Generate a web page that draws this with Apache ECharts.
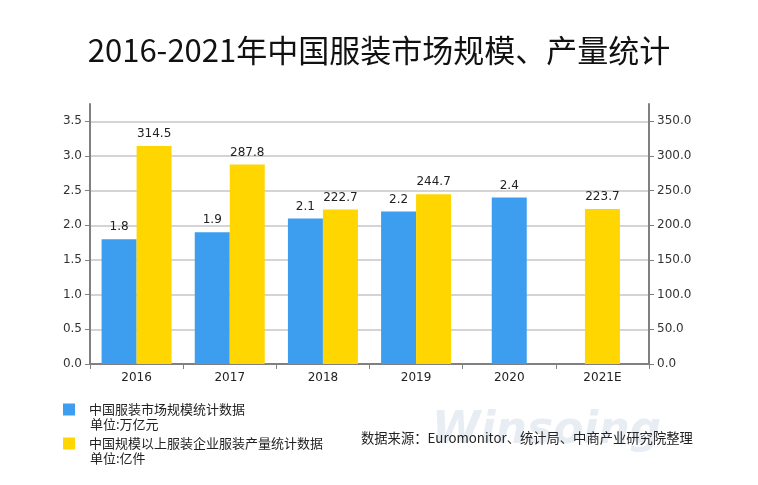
<!DOCTYPE html>
<html><head><meta charset="utf-8">
<script src="https://cdn.jsdelivr.net/npm/echarts@6/dist/echarts.min.js"></script>
<style>html,body{margin:0;padding:0;background:#fff}#c{width:758px;height:485px}</style>
</head><body><div id="c"></div>
<script>
var categories = ['2016', '2017', '2018', '2019', '2020', '2021E'];
var marketSize = [1.8, 1.9, 2.1, 2.2, 2.4, null];          // 万亿元
var production = [314.5, 287.8, 222.7, 244.7, null, 223.7]; // 亿件
var leftTicks = [0, 0.5, 1.0, 1.5, 2.0, 2.5, 3.0, 3.5];
var rightTicks = [0, 50, 100, 150, 200, 250, 300, 350];
var nameA = '中国服装市场规模统计数据';
var nameB = '中国规模以上服装企业服装产量统计数据';
var unitA = '单位:万亿元';
var unitB = '单位:亿件';
var title = '2016-2021年中国服装市场规模、产量统计';
var source = '数据来源：Euromonitor、统计局、中商产业研究院整理';

var BLUE = '#3d9ef0', YELLOW = '#ffd600', FONT = '"Noto Sans CJK SC", "DejaVu Sans", sans-serif';
var both = categories.map(function (c, i) { return marketSize[i] != null && production[i] != null; });
var aPair = marketSize.map(function (v, i) { return both[i] ? v : null; });
var bPair = production.map(function (v, i) { return both[i] ? v : null; });
var aSolo = marketSize.map(function (v, i) { return both[i] ? null : v; });
var bSolo = production.map(function (v, i) { return both[i] ? null : v; });

var lbl = { show: true, position: 'top', distance: 6, color: '#222', fontSize: 12, fontFamily: 'DejaVu Sans' };
var chart = echarts.init(document.getElementById('c'), null, { renderer: 'canvas' });
var axisLineStyle = { color: '#808080', width: 2 };
function yAxisCfg(max, interval, pos, ticks) {
  return {
    type: 'value', position: pos, min: 0, max: max, interval: interval,
    axisLine: { show: true, lineStyle: axisLineStyle },
    axisTick: { show: true, length: 5, lineStyle: { color: '#808080', width: 1 } },
    axisLabel: { color: '#333', fontSize: 12, fontFamily: 'DejaVu Sans', margin: 8, showMaxLabel: false,
      formatter: function (v) { return ticks.indexOf(v) >= 0 ? v.toFixed(1) : ''; } },
    splitLine: { show: pos === 'left', showMaxLine: false, lineStyle: { color: '#d4d4d4', width: 2 } }
  };
}
function legendCfg(name, top) {
  return {
    orient: 'vertical', left: 58, top: top, itemWidth: 12, itemHeight: 12, icon: 'rect',
    data: [name], padding: 5,
    textStyle: { fontFamily: FONT, fontSize: 13, color: '#222', padding: [0, 0, 0, 9] }
  };
}
chart.setOption({
  animation: false,
  backgroundColor: '#fff',
  title: { text: title, left: 'center', top: 30, textStyle: { fontFamily: FONT, fontSize: 31, fontWeight: 'normal', color: '#111' } },
  grid: { left: 90, right: 109, top: 104, bottom: 121 },
  legend: [legendCfg(nameA, 398), legendCfg(nameB, 432)],
  xAxis: [
    { type: 'category', data: categories, position: 'bottom',
      axisLine: { lineStyle: axisLineStyle },
      axisTick: { show: true, length: 5, lineStyle: { color: '#808080' } },
      axisLabel: { color: '#222', fontSize: 12, fontFamily: 'DejaVu Sans', margin: 8 } },
    { type: 'category', data: categories, show: false }
  ],
  yAxis: [yAxisCfg(3.75, 0.5, 'left', leftTicks), yAxisCfg(375, 50, 'right', rightTicks)],
  series: [
    { name: nameA, type: 'bar', xAxisIndex: 0, yAxisIndex: 0, data: aPair, barWidth: 35, barGap: 0, itemStyle: { color: BLUE }, label: lbl },
    { name: nameB, type: 'bar', xAxisIndex: 0, yAxisIndex: 1, data: bPair, barWidth: 35, barGap: 0, itemStyle: { color: YELLOW }, label: lbl },
    { name: nameA, type: 'bar', xAxisIndex: 1, yAxisIndex: 0, data: aSolo, barWidth: 35, barGap: '-100%', itemStyle: { color: BLUE }, label: lbl },
    { name: nameB, type: 'bar', xAxisIndex: 1, yAxisIndex: 1, data: bSolo, barWidth: 35, barGap: '-100%', itemStyle: { color: YELLOW }, label: lbl }
  ],
  graphic: [
    { type: 'text', left: 432, top: 410, z: 0, style: { text: 'Winsoing', font: 'italic bold 44px "DejaVu Sans"', fill: '#e8edf3' } },
    { type: 'text', left: 90, top: 418, z: 10, style: { text: unitA, font: '13px ' + FONT, fill: '#222' } },
    { type: 'text', left: 90, top: 452, z: 10, style: { text: unitB, font: '13px ' + FONT, fill: '#222' } },
    { type: 'text', left: 361, top: 431, z: 10, style: { text: source, font: '13.3px ' + FONT, fill: '#222' } }
  ]
});
</script></body></html>
